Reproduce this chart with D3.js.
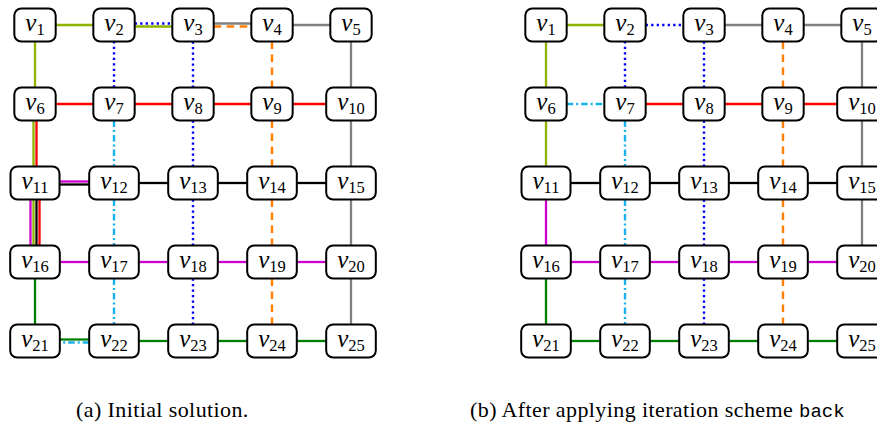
<!DOCTYPE html>
<html>
<head>
<meta charset="utf-8">
<script src="https://cdn.jsdelivr.net/npm/d3@7"></script>
<style>
  html, body { margin: 0; padding: 0; background: #fff; }
  svg { display: block; }
</style>
</head>
<body>
<svg id="chart" width="877" height="423"></svg>
<script>
// ---------- data ----------
const nodeIds = d3.range(1, 26);            // v1 .. v25 on a 5x5 grid

const routeNames  = ["blue", "gray", "magenta", "olive", "black", "red", "green", "cyan", "orange"];

// panel (a) : initial solution
const routesA = [
  [7, 2, 3, 8, 13, 18, 23],       // blue dotted
  [3, 4, 5, 10, 15, 20, 25],      // gray
  [12, 11, 16, 17, 18, 19, 20],   // magenta
  [3, 2, 1, 6, 11, 16],           // olive
  [15, 14, 13, 12, 11, 16],       // black
  [10, 9, 8, 7, 6, 11, 16],       // red
  [16, 21, 22, 23, 24, 25],       // green
  [7, 12, 17, 22, 21],            // cyan dash-dot
  [3, 4, 9, 14, 19, 24]           // orange dashed
];
// panel (b) : after iteration scheme
const routesB = [
  [7, 2, 3, 8, 13, 18, 23],
  [3, 4, 5, 10, 15, 20],
  [11, 16, 17, 18, 19, 20],
  [2, 1, 6, 11],
  [11, 12, 13, 14, 15],
  [7, 8, 9, 10],
  [16, 21, 22, 23, 24, 25],
  [6, 7, 12, 17, 22],
  [4, 9, 14, 19, 24]
];

const captions = ["(a) Initial solution.", "(b) After applying iteration scheme "];
const captionCode = ["", "back"];

// ---------- styles ----------
const routeStyle = {
  blue:    { color: "#0000ff", dash: "2.3,3.2", width: 2.4 },
  gray:    { color: "#858080", dash: null,      width: 2.3 },
  magenta: { color: "#cc00cc", dash: null,      width: 2.3 },
  olive:   { color: "#8fb300", dash: null,      width: 2.3 },
  black:   { color: "#000000", dash: null,      width: 2.3 },
  red:     { color: "#ff0000", dash: null,      width: 2.3 },
  green:   { color: "#008000", dash: null,      width: 2.3 },
  cyan:    { color: "#19b2ea", dash: "6.5,3,2,3", width: 2.4 },
  orange:  { color: "#ff8000", dash: "7.5,5.5", width: 2.4 }
};

const svg = d3.select("#chart");
const x = d3.scaleLinear().domain([0, 4]).range([35, 351]);
const y = d3.scaleLinear().domain([0, 4]).range([25, 341]);
const panelOffsets = [0, 511];
const BOX_H = 33, PAD = 22, SPACING = 3;

const col = id => (id - 1) % 5;
const row = id => Math.floor((id - 1) / 5);

function drawPanel(routes, dx) {
  const g = svg.append("g").attr("transform", `translate(${dx},0)`);
  const lineG = g.append("g");
  const nodeG = g.append("g");

  const widths = {};
  nodeIds.forEach(id => {
    const cx = x(col(id)), cy = y(row(id));
    const ng = nodeG.append("g");
    const rect = ng.append("rect");
    const t = ng.append("text")
      .attr("font-family", "'Liberation Serif', 'Times New Roman', serif")
      .attr("y", cy + 6);
    t.append("tspan").attr("font-style", "italic").attr("font-size", 25).text("v");
    t.append("tspan").attr("font-size", 16.5).attr("dy", 3.5).text(String(id));
    const tw = t.node().getBBox().width;
    t.attr("x", cx - tw / 2);
    const w = tw + PAD;
    widths[id] = w;
    rect.attr("x", cx - w / 2).attr("y", cy - BOX_H / 2)
      .attr("width", w).attr("height", BOX_H)
      .attr("rx", 7).attr("ry", 7)
      .attr("fill", "#fff").attr("stroke", "#000").attr("stroke-width", 2);
  });

  const key = (a, b) => a < b ? a + "-" + b : b + "-" + a;
  const edgeRoutes = {};
  routes.forEach((path, ri) => {
    for (let i = 0; i < path.length - 1; i++) {
      const k = key(path[i], path[i + 1]);
      (edgeRoutes[k] = edgeRoutes[k] || []).push(ri);
    }
  });

  routes.forEach((path, ri) => {
    const st = routeStyle[routeNames[ri]];
    for (let i = 0; i < path.length - 1; i++) {
      const a = path[i], b = path[i + 1];
      const list = edgeRoutes[key(a, b)];
      const off = (list.indexOf(ri) - (list.length - 1) / 2) * SPACING;
      const xa = x(col(a)), ya = y(row(a)), xb = x(col(b)), yb = y(row(b));
      let x1, y1, x2, y2;
      if (ya === yb) {
        const s = Math.sign(xb - xa);
        x1 = xa + s * widths[a] / 2; x2 = xb - s * widths[b] / 2;
        y1 = y2 = ya + off;
      } else {
        const s = Math.sign(yb - ya);
        y1 = ya + s * BOX_H / 2; y2 = yb - s * BOX_H / 2;
        x1 = x2 = xa + off;
      }
      lineG.append("line")
        .attr("x1", x1).attr("y1", y1).attr("x2", x2).attr("y2", y2)
        .attr("stroke", st.color).attr("stroke-width", st.width)
        .attr("stroke-dasharray", st.dash);
    }
  });
}

drawPanel(routesA, panelOffsets[0]);
drawPanel(routesB, panelOffsets[1]);

// captions
const capX = [76, 470];
captions.forEach((c, i) => {
  const t = svg.append("text")
    .attr("x", capX[i]).attr("y", 417)
    .attr("font-family", "'Liberation Serif', 'Times New Roman', serif")
    .attr("font-size", 22)
    .attr("letter-spacing", 0.4)
    .attr("fill", "#000");
  t.append("tspan").text(c);
  if (captionCode[i]) {
    t.append("tspan")
      .attr("font-family", "'Liberation Mono', 'DejaVu Sans Mono', monospace")
      .attr("font-size", 19)
      .attr("letter-spacing", 0)
      .text(captionCode[i]);
  }
});
</script>
</body>
</html>
